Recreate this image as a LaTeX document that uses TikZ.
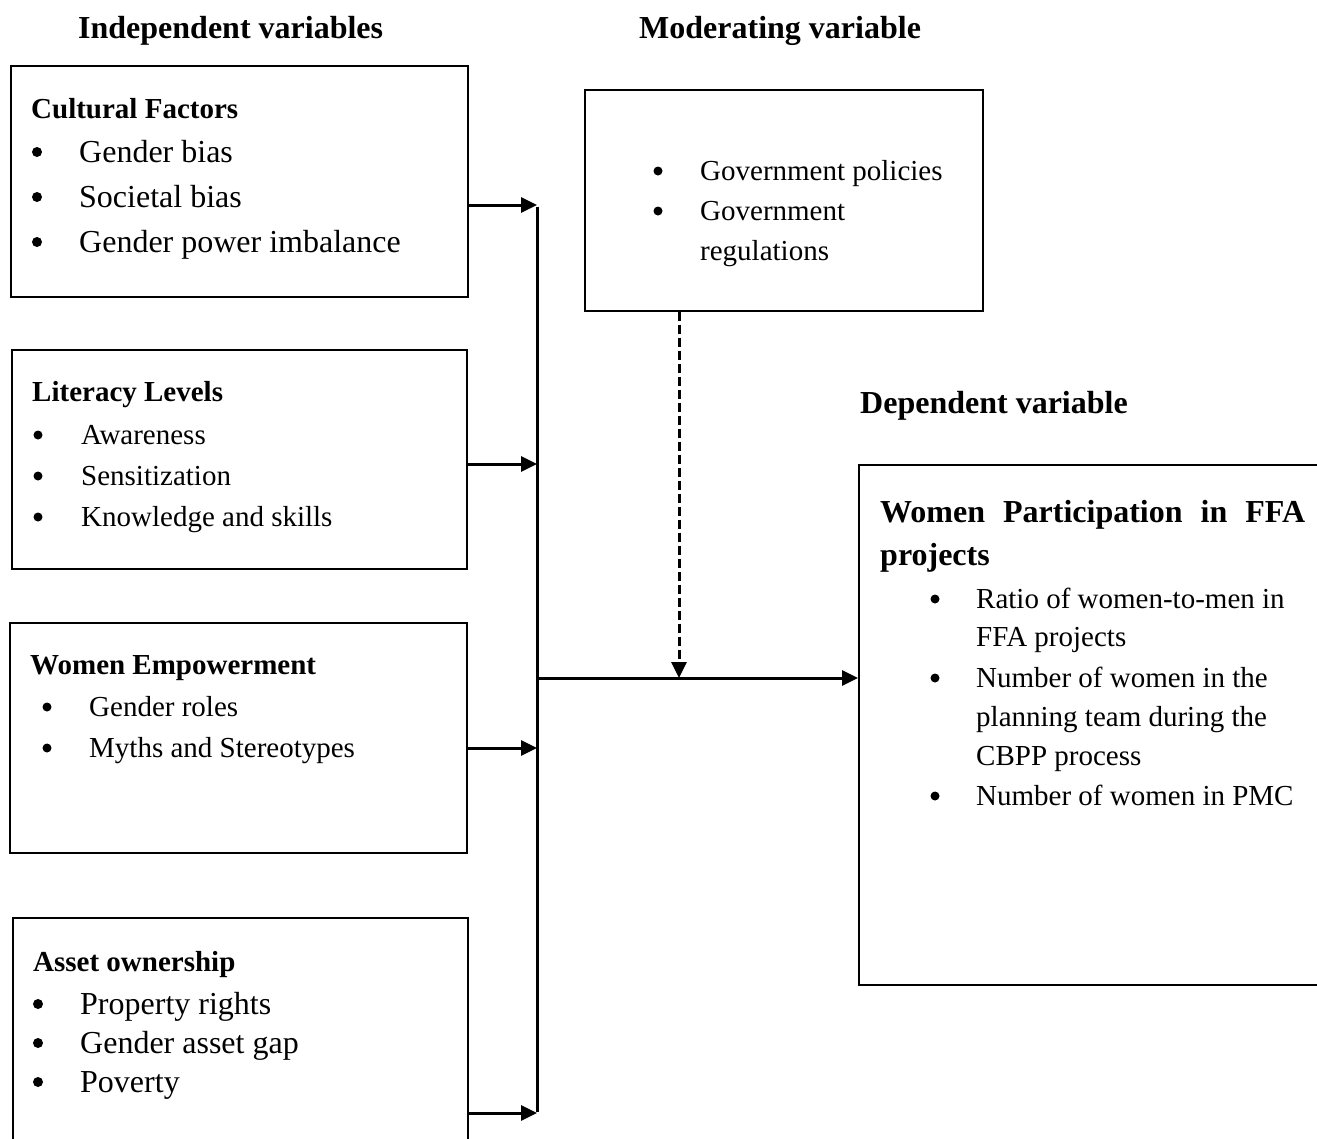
\documentclass[tikz,border=0pt]{standalone}
\usepackage{fontspec}
\setmainfont{Liberation Serif}
\usetikzlibrary{arrows.meta}
\newcommand\ftsmall{\fontsize{29}{38}\selectfont}
\newcommand\ftbig{\fontsize{32}{44}\selectfont}
\tikzset{
  box/.style={draw, line width=1.7pt, inner sep=0pt, anchor=north west},
  heading/.style={font=\ftbig\bfseries, anchor=base west, inner sep=0pt},
  title/.style={font=\ftsmall\bfseries, anchor=base west, inner sep=0pt},
  itemS/.style={font=\ftsmall, anchor=base west, inner sep=0pt},
  itemB/.style={font=\ftbig, anchor=base west, inner sep=0pt},
  dotS/.style={circle, fill, inner sep=0pt, minimum size=9pt},
  dotB/.style={circle, fill, inner sep=0pt, minimum size=10pt},
  conn/.style={line width=3pt},
  arr/.style={line width=3pt, -{Triangle[length=16pt,width=15pt]}},
  dasharr/.style={line width=3pt, dash pattern=on 9pt off 4pt, -{Triangle[length=16pt,width=15pt]}}
}
\begin{document}
\begin{tikzpicture}[x=1pt,y=-1pt]
\useasboundingbox (0,0) rectangle (1317,1138);
\clip (0,0) rectangle (1317,1138);
\fill[white] (0,0) rectangle (1317,1138);

% headings
\node[heading] (hind) at (78,38) {Independent variables};
\node[heading] (hmod) at (639,38) {Moderating variable};
\node[heading] (hdep) at (860,413) {Dependent variable};

% boxes
\node[box, minimum width=457pt, minimum height=231pt] (cult) at (10,65) {};
\node[box, minimum width=455pt, minimum height=219pt] (lit) at (11,349) {};
\node[box, minimum width=457pt, minimum height=230pt] (emp) at (9,622) {};
\node[box, minimum width=455pt, minimum height=260pt] (asset) at (12,917) {};
\node[box, minimum width=398pt, minimum height=221pt] (mod) at (584,89) {};
\node[box, line width=2.3pt, minimum width=480pt, minimum height=520pt] (dep) at (858,464) {};

% Cultural factors
\node[title] (ct) at (31,118) {Cultural Factors};
\node[dotB] (cb1) at (37,152) {};
\node[itemB] (c1) at (79,162) {Gender bias};
\node[dotB] (cb2) at (37,197) {};
\node[itemB] (c2) at (79,207) {Societal bias};
\node[dotB] (cb3) at (37,242) {};
\node[itemB] (c3) at (79,252) {Gender power imbalance};

% Literacy levels
\node[title] (lt) at (32,401) {Literacy Levels};
\node[dotS] (lb1) at (38,435) {};
\node[itemS] (l1) at (81,444) {Awareness};
\node[dotS] (lb2) at (38,476) {};
\node[itemS] (l2) at (81,485) {Sensitization};
\node[dotS] (lb3) at (38,517) {};
\node[itemS] (l3) at (81,526) {Knowledge and skills};

% Women empowerment
\node[title] (et) at (30,674) {Women Empowerment};
\node[dotS] (eb1) at (47,707) {};
\node[itemS] (e1) at (89,716) {Gender roles};
\node[dotS] (eb2) at (47,748) {};
\node[itemS] (e2) at (89,757) {Myths and Stereotypes};

% Asset ownership
\node[title] (at) at (33,971) {Asset ownership};
\node[dotB] (ab1) at (38,1004) {};
\node[itemB] (a1) at (80,1014) {Property rights};
\node[dotB] (ab2) at (38,1043) {};
\node[itemB] (a2) at (80,1053) {Gender asset gap};
\node[dotB] (ab3) at (38,1082) {};
\node[itemB] (a3) at (80,1092) {Poverty};

% Moderating
\node[dotS] (mb1) at (658,171) {};
\node[itemS] (m1) at (700,180) {Government policies};
\node[dotS] (mb2) at (658,211) {};
\node[itemS] (m2) at (700,220) {Government};
\node[itemS] (m3) at (700,260) {regulations};

% Dependent
\node[heading] (dt1) at (880,522) {\hbox to 425pt{Women\hfill Participation\hfill in\hfill FFA}};
\node[heading] (dt2) at (880,565) {projects};
\node[dotS] (db1) at (935,599) {};
\node[itemS] (d1) at (976,608) {Ratio of women-to-men in};
\node[itemS] (d1b) at (976,646) {FFA projects};
\node[dotS] (db2) at (935,678) {};
\node[itemS] (d2) at (976,687) {Number of women in the};
\node[itemS] (d2b) at (976,726) {planning team during the};
\node[itemS] (d2c) at (976,765) {CBPP process};
\node[dotS] (db3) at (935,796) {};
\node[itemS] (d3) at (976,805) {Number of women in PMC};

% connectors
\coordinate (bus1) at (537,205);
\coordinate (bus2) at (537,464);
\coordinate (bus3) at (537,748);
\coordinate (bus4) at (537,1113);
\coordinate (busm) at (537,678);
\coordinate (dj) at (679,678);

\draw[conn] ([yshift=-1.5pt]bus1) -- ([yshift=1.5pt]bus4);
\draw[arr] (cult.east |- bus1) -- (bus1);
\draw[arr] (lit.east |- bus2) -- (bus2);
\draw[arr] (emp.east |- bus3) -- (bus3);
\draw[arr] (asset.east |- bus4) -- (bus4);
\draw[arr] (busm) -- (dep.west |- busm);
\draw[dasharr] (mod.south -| dj) -- (dj);
\end{tikzpicture}
\end{document}
